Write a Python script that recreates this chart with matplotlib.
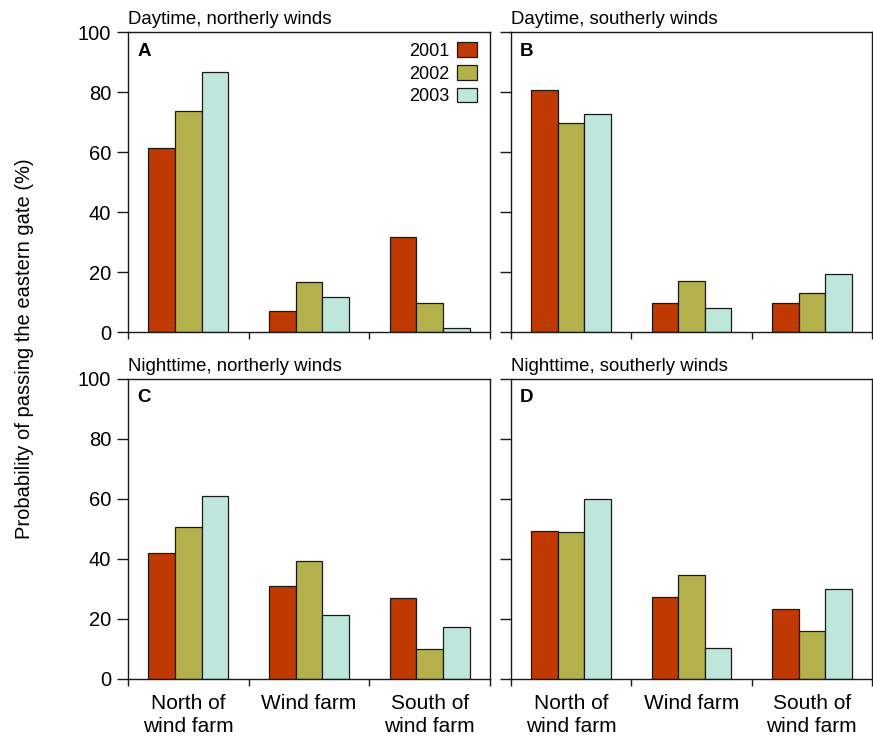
import numpy as np
import matplotlib
matplotlib.use("Agg")
import matplotlib.pyplot as plt

plt.rcParams["font.family"] = ["Liberation Sans", "DejaVu Sans"]

# ── Data ──────────────────────────────────────────────────────────────────────
locations = ["North of\nwind farm", "Wind farm", "South of\nwind farm"]
years     = ["2001", "2002", "2003"]

day_north   = {"2001": [61.2, 6.9, 31.8],
               "2002": [73.6, 16.6, 9.7],
               "2003": [86.8, 11.8, 1.4]}
day_south   = {"2001": [80.7, 9.7, 9.7],
               "2002": [69.8, 17.0, 13.0],
               "2003": [72.8, 7.9, 19.2]}
night_north = {"2001": [41.9, 31.1, 27.1],
               "2002": [50.6, 39.3, 10.1],
               "2003": [61.1, 21.4, 17.4]}
night_south = {"2001": [49.3, 27.4, 23.3],
               "2002": [49.1, 34.8, 16.1],
               "2003": [59.9, 10.4, 29.9]}

panels = [("A", "Daytime, northerly winds",   day_north),
          ("B", "Daytime, southerly winds",   day_south),
          ("C", "Nighttime, northerly winds", night_north),
          ("D", "Nighttime, southerly winds", night_south)]

colors = {"2001": "#C03900", "2002": "#B4B14C", "2003": "#BFE6DB"}

# ── Layout ────────────────────────────────────────────────────────────────────
W, H = 873, 740
fig = plt.figure(figsize=(W / 100, H / 100), dpi=100)
boxes = [(128, 32, 362), (511, 32, 361), (128, 379, 362), (511, 379, 361)]
axes = [fig.add_axes([x / W, (H - y - 300) / H, w / W, 300 / H])
        for x, y, w in boxes]

x = np.arange(len(locations))
bw = 0.221

for i, (ax, (letter, title, data)) in enumerate(zip(axes, panels)):
    for k, yr in enumerate(years):
        ax.bar(x + (k - 1) * bw, data[yr], width=bw, color=colors[yr],
               edgecolor="#1a1a1a", linewidth=0.9, label=yr)
    ax.set_xlim(-0.5, 2.5)
    ax.set_ylim(0, 100)
    ax.set_yticks(np.arange(0, 101, 20))
    ax.set_xticks([-0.5, 0.5, 1.5, 2.5])
    ax.set_xticklabels([])
    ax.set_xticks(x, minor=True)
    ax.tick_params(axis="x", which="major", direction="out", length=5,
                   width=1.0, color="#1a1a1a")
    ax.tick_params(axis="x", which="minor", length=0, pad=11,
                   labelsize=15)
    ax.tick_params(axis="y", direction="out", length=8, width=1.0,
                   color="#1a1a1a", labelsize=14.5, pad=4)
    if i >= 2:
        ax.set_xticklabels(locations, minor=True, linespacing=1.25)
    if i % 2 == 1:
        ax.set_yticklabels([])
    for s in ax.spines.values():
        s.set_linewidth(1.0)
        s.set_color("#1a1a1a")
    ax.set_title(title, loc="left", fontsize=13.4, pad=6)
    ax.text(0.025, 0.965, letter, transform=ax.transAxes, fontsize=13.5,
            fontweight="bold", va="top", ha="left")

leg = axes[0].legend(loc="upper right", bbox_to_anchor=(1.0, 1.008),
                     frameon=False, markerfirst=False, fontsize=13,
                     handlelength=1.1, handleheight=0.85, handletextpad=0.45,
                     labelspacing=0.3, borderaxespad=0.3)

fig.text(25 / W, 1 - 349 / H, "Probability of passing the eastern gate (%)",
         rotation=90, ha="center", va="center", fontsize=14.5)

fig.savefig("out.png", dpi=100)
